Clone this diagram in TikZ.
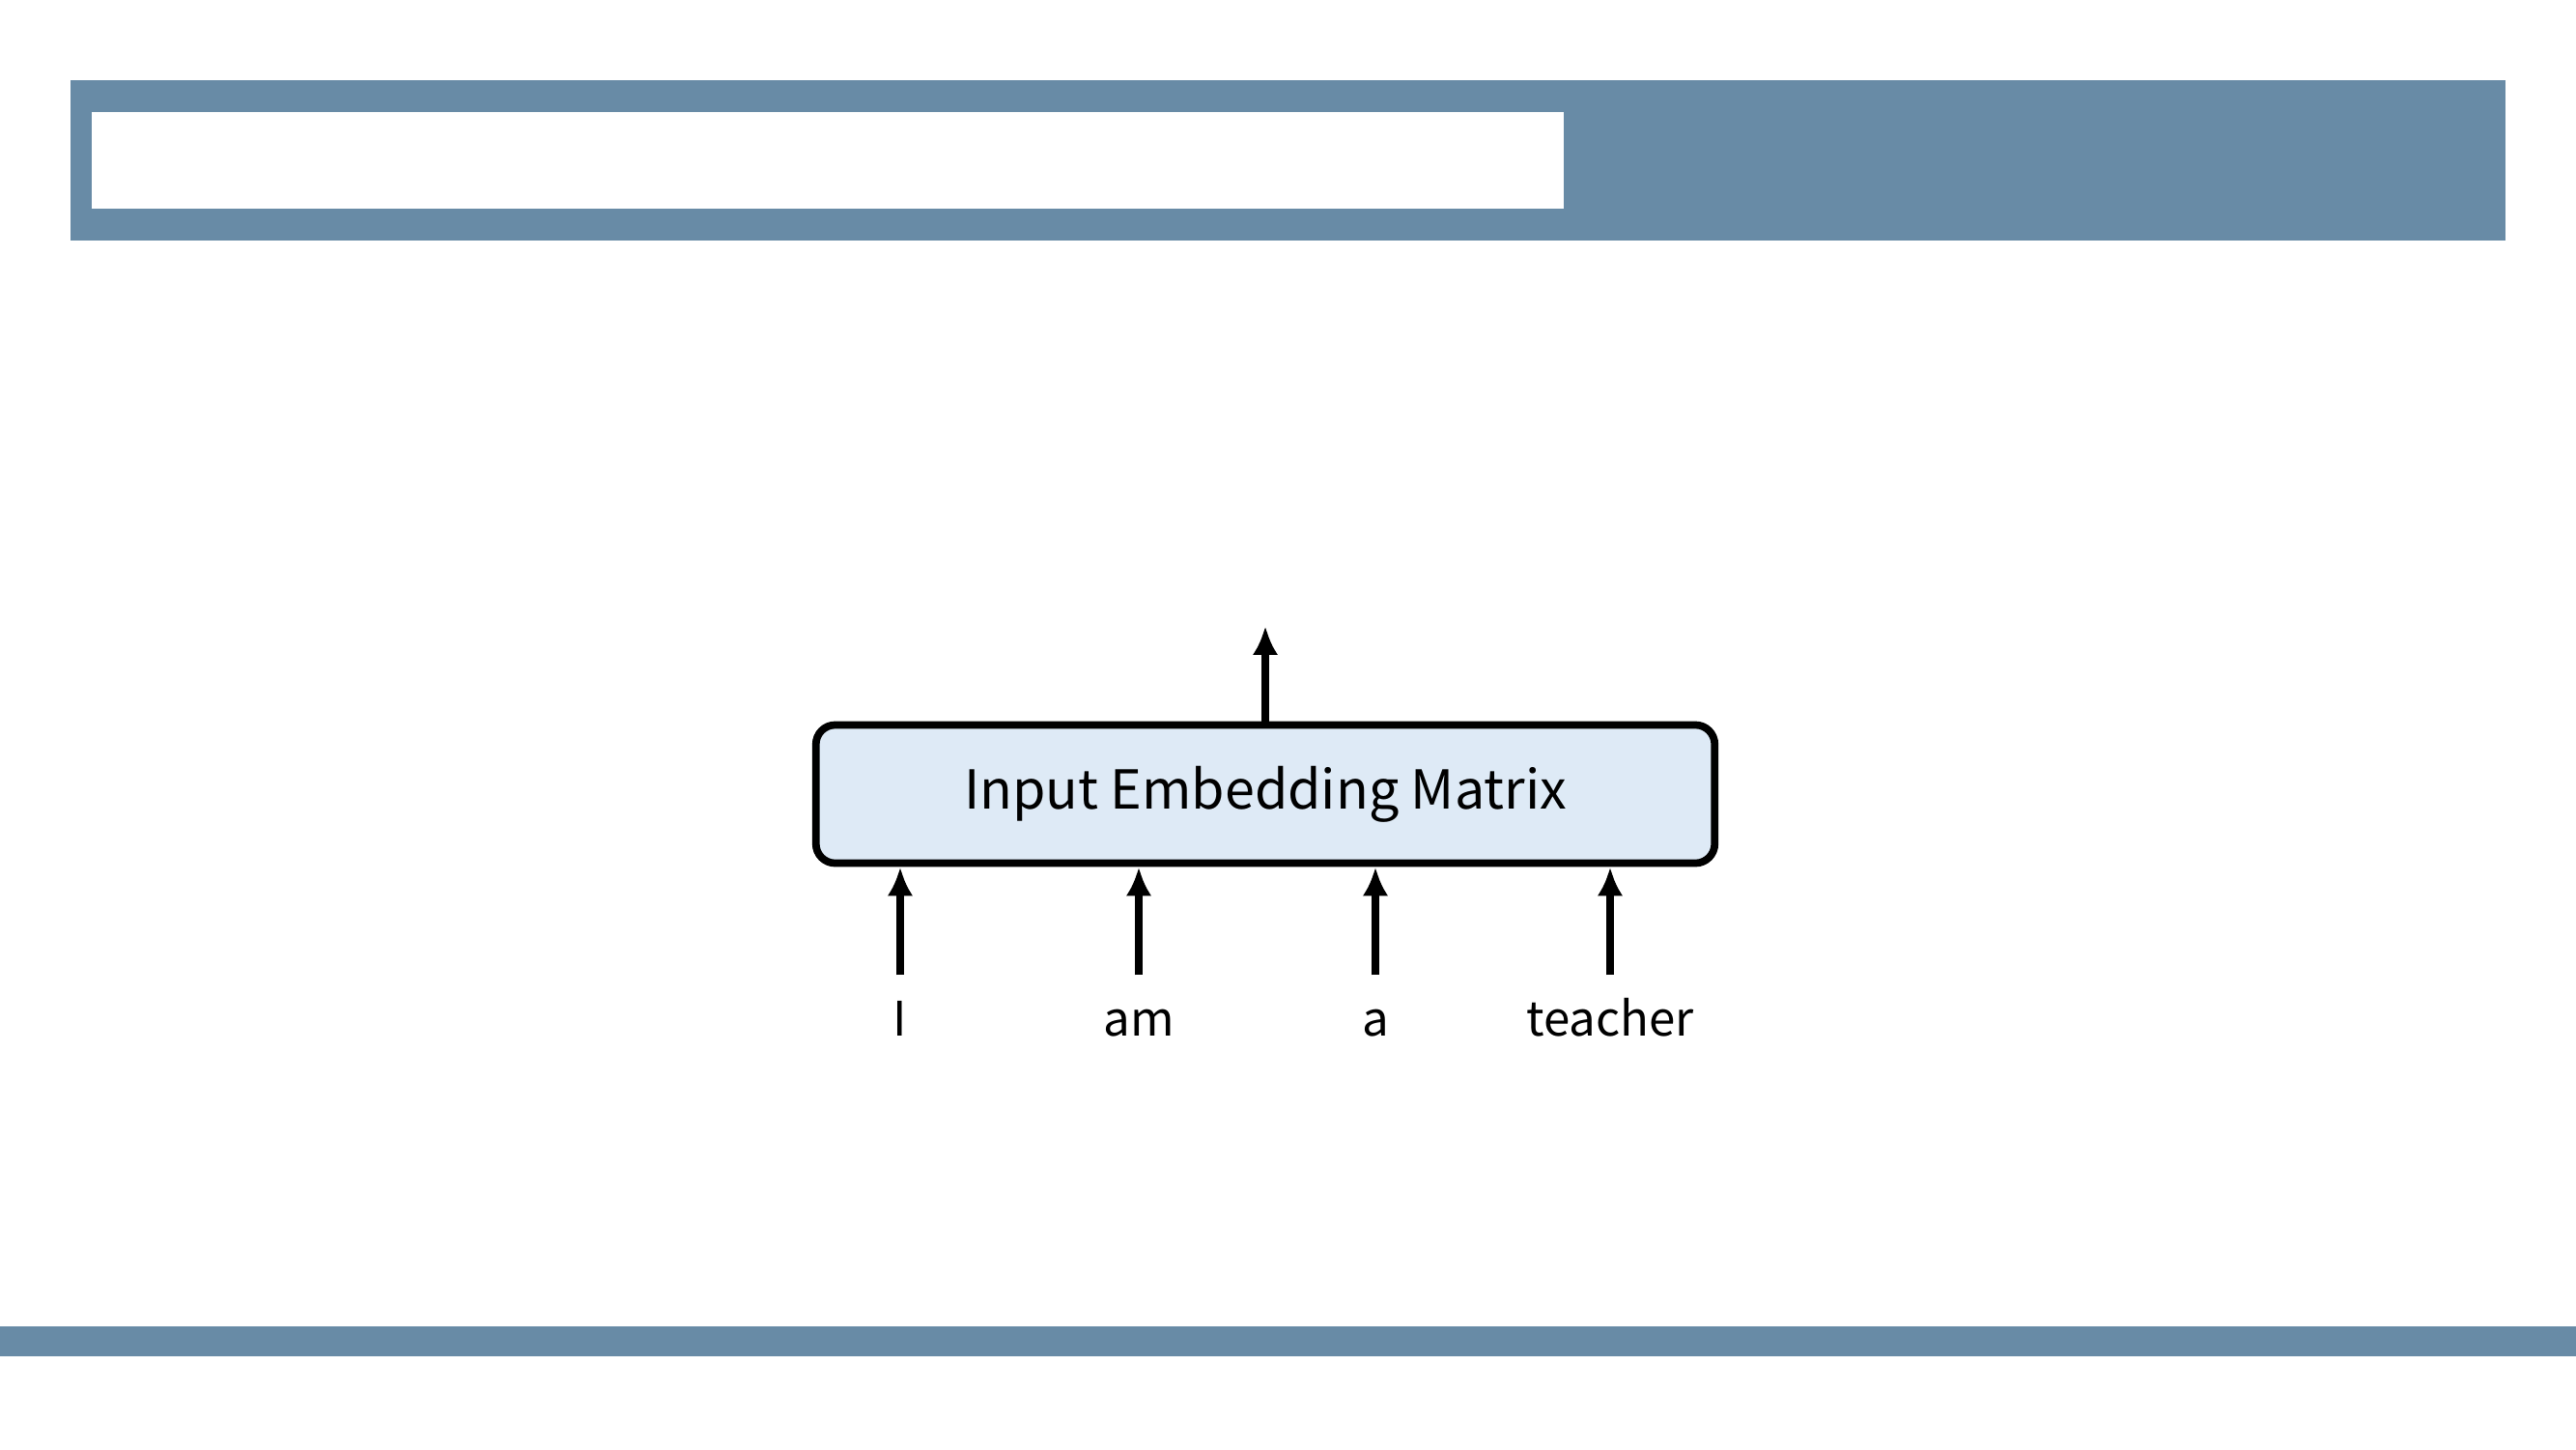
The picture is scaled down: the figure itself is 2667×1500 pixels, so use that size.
\documentclass[tikz,border=0pt]{standalone}
\usepackage{fontspec}
\setmainfont{Noto Sans CJK KR}
\usepackage{xcolor}
\usepackage{tikz}
\usetikzlibrary{positioning,arrows.meta}
\definecolor{bandblue}{RGB}{104,139,166}
\definecolor{boxblue}{RGB}{222,234,246}
\tikzset{
  embbox/.style={draw=black, line width=2.2pt, fill=boxblue, rounded corners=0.2cm,
    minimum width=9.3cm, minimum height=1.43cm, inner sep=0pt, font=\fontsize{15.8}{19}\selectfont},
  word/.style={anchor=base, font=\fontsize{14}{17}\selectfont, text height=10pt, text depth=3pt, inner sep=7.6pt},
  arr/.style={line width=2.2pt, -{Latex[length=8.5pt,width=7.5pt]}}
}
\begin{document}
\begin{tikzpicture}[x=0.01cm,y=-0.01cm]
					\useasboundingbox (0,0) rectangle (2667,1500);
					\fill[bandblue] (73,83) rectangle (2594,249);
					\fill[white] (95,116) rectangle (1619,216);
					\fill[bandblue] (0,1373) rectangle (2667,1404);
					\node[embbox] (emb) at (1310,822) {Input Embedding Matrix};
					\coordinate (out) at (1310,648);
					\draw[arr] (emb.north) -- (out);
					\foreach \w/\x [count=\i] in {I/932, am/1179, a/1424, teacher/1667} {
						\node[word] (w\i) at (\x,1072) {\w};
						\draw[arr] (w\i.north) -- (w\i.north |- emb.south);
					}
				\end{tikzpicture}
\end{document}
